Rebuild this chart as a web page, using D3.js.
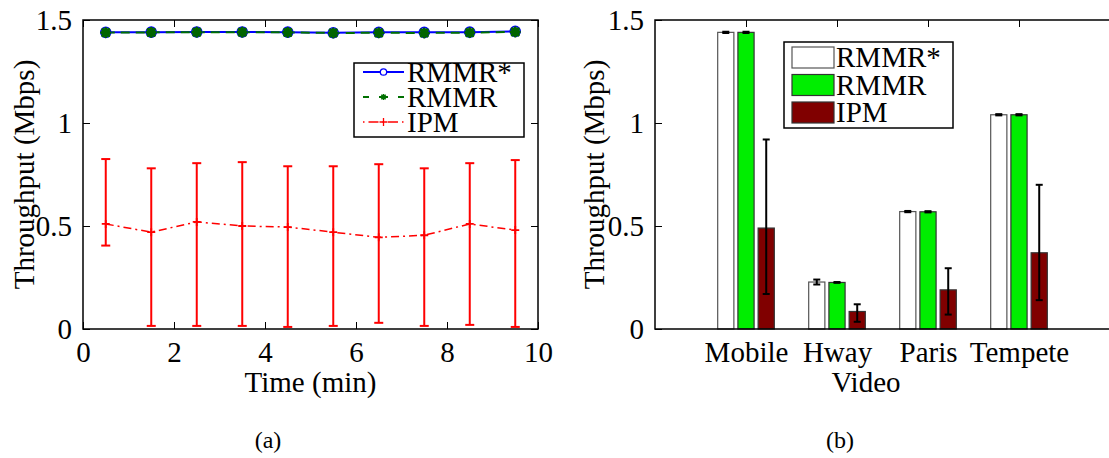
<!DOCTYPE html>
<html>
<head>
<meta charset="utf-8">
<script src="https://cdn.jsdelivr.net/npm/d3@7"></script>
<style>
  html, body { margin: 0; padding: 0; background: #fff; }
  svg { display: block; }
</style>
</head>
<body>
<svg id="fig" width="1109" height="458"></svg>
<script>
// ---- Panel (a): throughput over time ----
const timeMin = [0.5, 1.5, 2.5, 3.5, 4.5, 5.5, 6.5, 7.5, 8.5, 9.5];
const rmmrStarTime = [1.440, 1.441, 1.442, 1.442, 1.441, 1.438, 1.440, 1.440, 1.441, 1.445];
const rmmrTime     = [1.439, 1.440, 1.441, 1.441, 1.440, 1.437, 1.438, 1.437, 1.439, 1.442];
const ipmTime      = [0.51, 0.47, 0.52, 0.50, 0.495, 0.47, 0.445, 0.455, 0.51, 0.48];
const ipmTimeLow   = [0.405, 0.015, 0.015, 0.015, 0.01, 0.015, 0.03, 0.015, 0.02, 0.01];
const ipmTimeHigh  = [0.825, 0.78, 0.805, 0.81, 0.79, 0.79, 0.80, 0.78, 0.805, 0.82];
const timeTicks = [0, 2, 4, 6, 8, 10];
const throughputTicks = [0, 0.5, 1, 1.5];

// ---- Panel (b): throughput per video ----
const videos = ["Mobile", "Hway", "Paris", "Tempete"];
const schemes = ["RMMR*", "RMMR", "IPM"];
const rmmrStarVideo = [1.44, 0.228, 0.57, 1.04];
const rmmrVideo     = [1.44, 0.226, 0.569, 1.04];
const ipmVideo      = [0.49, 0.085, 0.19, 0.37];
const rmmrStarErr   = [0.003, 0.012, 0.003, 0.003];
const rmmrErr       = [0.003, 0.002, 0.003, 0.003];
const ipmVideoLow   = [0.17, 0.035, 0.07, 0.14];
const ipmVideoHigh  = [0.92, 0.12, 0.295, 0.70];

const svg = d3.select("#fig");
const FS = 29;
const SERIF = "'Liberation Serif', 'Times New Roman', Times, serif";

function frame(g, W, H) {
  g.append("rect").attr("x", 0).attr("y", 0).attr("width", W).attr("height", H)
    .attr("fill", "none").attr("stroke", "#000").attr("stroke-width", 1.5);
}

// ================= Panel (a) =================
{
  const L = 83, T = 20, W = 455, H = 309;
  const g = svg.append("g").attr("transform", `translate(${L},${T})`);
  const x = d3.scaleLinear().domain([0, 10]).range([0, W]);
  const y = d3.scaleLinear().domain([0, 1.5]).range([H, 0]);

  // ticks (inside, on all four sides)
  const tick = 7;
  g.append("g").attr("transform", `translate(0,${H})`)
    .call(d3.axisBottom(x).tickValues(timeTicks).tickSizeInner(-tick).tickSizeOuter(0).tickPadding(12).tickFormat(d3.format("d")))
    .call(a => a.select(".domain").remove());
  g.append("g")
    .call(d3.axisTop(x).tickValues(timeTicks).tickSizeInner(-tick).tickSizeOuter(0).tickFormat(""))
    .call(a => a.select(".domain").remove());
  g.append("g")
    .call(d3.axisLeft(y).tickValues(throughputTicks).tickSizeInner(-tick).tickSizeOuter(0).tickPadding(11).tickFormat(d => d3.format("")(d)))
    .call(a => a.select(".domain").remove());
  g.append("g").attr("transform", `translate(${W},0)`)
    .call(d3.axisRight(y).tickValues(throughputTicks).tickSizeInner(-tick).tickSizeOuter(0).tickFormat(""))
    .call(a => a.select(".domain").remove());
  g.selectAll(".tick line").attr("stroke", "#000").attr("stroke-width", 1);
  g.selectAll(".tick text").attr("font-size", FS).attr("fill", "#000");

  // IPM error bars
  const cap = 4.5;
  const eb = g.append("g").attr("stroke", "#ff0000").attr("stroke-width", 2).attr("fill", "none");
  timeMin.forEach((t, i) => {
    const cx = x(t);
    eb.append("line").attr("x1", cx).attr("x2", cx).attr("y1", y(ipmTimeLow[i])).attr("y2", y(ipmTimeHigh[i]));
    eb.append("line").attr("x1", cx - cap).attr("x2", cx + cap).attr("y1", y(ipmTimeLow[i])).attr("y2", y(ipmTimeLow[i]));
    eb.append("line").attr("x1", cx - cap).attr("x2", cx + cap).attr("y1", y(ipmTimeHigh[i])).attr("y2", y(ipmTimeHigh[i]));
  });

  const line = d3.line().x((d, i) => x(timeMin[i])).y(d => y(d));
  // IPM dash-dot line
  g.append("path").datum(ipmTime).attr("d", line).attr("fill", "none")
    .attr("stroke", "#ff0000").attr("stroke-width", 1.5).attr("stroke-dasharray", "8,4,2,4");
  g.selectAll(".ipmMark").data(ipmTime).join("path").attr("class", "ipmMark")
    .attr("transform", (d, i) => `translate(${x(timeMin[i])},${y(d)})`)
    .attr("d", "M-4,0H4M0,-4V4").attr("stroke", "#ff0000").attr("stroke-width", 1.8);

  // RMMR* solid blue with circles
  g.append("path").datum(rmmrStarTime).attr("d", line).attr("fill", "none")
    .attr("stroke", "#0000ff").attr("stroke-width", 2);
  // RMMR dashed green with asterisks
  g.append("path").datum(rmmrTime).attr("d", line).attr("fill", "none")
    .attr("stroke", "#007000").attr("stroke-width", 2).attr("stroke-dasharray", "9,6");
  g.selectAll(".starMark").data(rmmrStarTime).join("circle").attr("class", "starMark")
    .attr("cx", (d, i) => x(timeMin[i])).attr("cy", d => y(d)).attr("r", 5)
    .attr("fill", "none").attr("stroke", "#0000ff").attr("stroke-width", 1.6);
  const asterisk = "M-4,0H4M0,-4V4M-3,-3L3,3M-3,3L3,-3";
  g.selectAll(".rmmrMark").data(rmmrTime).join("path").attr("class", "rmmrMark")
    .attr("transform", (d, i) => `translate(${x(timeMin[i])},${y(d)})`)
    .attr("d", asterisk).attr("stroke", "#006400").attr("stroke-width", 3.2).attr("stroke-linecap", "round");

  frame(g, W, H);

  // legend
  const lg = svg.append("g").attr("transform", "translate(354,63)");
  lg.append("rect").attr("width", 170).attr("height", 74).attr("fill", "#fff").attr("stroke", "#000").attr("stroke-width", 1.5);
  const rows = [9, 34, 59];
  // RMMR*
  lg.append("line").attr("x1", 9).attr("x2", 50).attr("y1", rows[0]).attr("y2", rows[0]).attr("stroke", "#0000ff").attr("stroke-width", 2);
  lg.append("circle").attr("cx", 29.5).attr("cy", rows[0]).attr("r", 3.2).attr("fill", "#fff").attr("stroke", "#0000ff").attr("stroke-width", 1.3);
  // RMMR
  lg.append("line").attr("x1", 9).attr("x2", 50).attr("y1", rows[1]).attr("y2", rows[1]).attr("stroke", "#007000").attr("stroke-width", 2).attr("stroke-dasharray", "6,10,9,10,6");
  lg.append("path").attr("transform", `translate(29.5,${rows[1]})`).attr("d", "M-3,0H3M0,-3V3M-2.2,-2.2L2.2,2.2M-2.2,2.2L2.2,-2.2")
    .attr("stroke", "#007000").attr("stroke-width", 1.5);
  // IPM
  lg.append("line").attr("x1", 9).attr("x2", 50).attr("y1", rows[2]).attr("y2", rows[2]).attr("stroke", "#ff0000").attr("stroke-width", 1.5).attr("stroke-dasharray", "1.5,4,10,4");
  lg.append("path").attr("transform", `translate(29.5,${rows[2]})`).attr("d", "M-4,0H4M0,-4V4").attr("stroke", "#ff0000").attr("stroke-width", 1.3);
  ["RMMR*", "RMMR", "IPM"].forEach((s, i) => {
    lg.append("text").attr("x", 53).attr("y", rows[i] + 10).attr("font-size", FS).text(s);
  });

  svg.append("text").attr("x", L + W / 2).attr("y", 392).attr("text-anchor", "middle").attr("font-size", FS).text("Time (min)");
  svg.append("text").attr("transform", `translate(34,${T + H / 2}) rotate(-90)`).attr("text-anchor", "middle").attr("font-size", FS).text("Throughput (Mbps)");
  svg.append("text").attr("x", 268).attr("y", 448).attr("text-anchor", "middle").attr("font-size", 24).text("(a)");
}

// ================= Panel (b) =================
{
  const L = 655, T = 20, W = 455, H = 309;
  const g = svg.append("g").attr("transform", `translate(${L},${T})`);
  const x = d3.scaleLinear().domain([0, 5]).range([0, W]);
  const y = d3.scaleLinear().domain([0, 1.5]).range([H, 0]);
  const pos = videos.map((v, i) => i + 1);

  const tick = 7;
  g.append("g").attr("transform", `translate(0,${H})`)
    .call(d3.axisBottom(x).tickValues(pos).tickSizeInner(-tick).tickSizeOuter(0).tickPadding(12).tickFormat((d, i) => videos[i]))
    .call(a => a.select(".domain").remove());
  g.append("g")
    .call(d3.axisTop(x).tickValues(pos).tickSizeInner(-tick).tickSizeOuter(0).tickFormat(""))
    .call(a => a.select(".domain").remove());
  g.append("g")
    .call(d3.axisLeft(y).tickValues(throughputTicks).tickSizeInner(-tick).tickSizeOuter(0).tickPadding(11).tickFormat(d => d3.format("")(d)))
    .call(a => a.select(".domain").remove());
  g.selectAll(".tick line").attr("stroke", "#000").attr("stroke-width", 1);
  g.selectAll(".tick text").attr("font-size", FS).attr("fill", "#000");

  // grouped bars
  const groupW = Math.min(0.8, 3 / 4.5);
  const barW = groupW / 3 * 0.8;
  const off = groupW / 3;
  const series = [
    { vals: rmmrStarVideo, lo: rmmrStarVideo.map((v, i) => v - rmmrStarErr[i]), hi: rmmrStarVideo.map((v, i) => v + rmmrStarErr[i]), fill: "#ffffff", edge: "#555" },
    { vals: rmmrVideo, lo: rmmrVideo.map((v, i) => v - rmmrErr[i]), hi: rmmrVideo.map((v, i) => v + rmmrErr[i]), fill: "#00ee00", edge: "#333" },
    { vals: ipmVideo, lo: ipmVideoLow, hi: ipmVideoHigh, fill: "#800000", edge: "#333" }
  ];
  series.forEach((s, k) => {
    const dx = (k - 1) * off;
    g.selectAll(".bar" + k).data(s.vals).join("rect").attr("class", "bar" + k)
      .attr("x", (d, i) => x(pos[i] + dx - barW / 2))
      .attr("width", x(barW) - x(0))
      .attr("y", d => y(d)).attr("height", d => y(0) - y(d))
      .attr("fill", s.fill).attr("stroke", s.edge).attr("stroke-width", 1.2);
    const cap = 3.5;
    s.vals.forEach((v, i) => {
      const cx = x(pos[i] + dx);
      const e = g.append("g").attr("stroke", "#000").attr("stroke-width", 2);
      e.append("line").attr("x1", cx).attr("x2", cx).attr("y1", y(s.lo[i])).attr("y2", y(s.hi[i]));
      e.append("line").attr("x1", cx - cap).attr("x2", cx + cap).attr("y1", y(s.lo[i])).attr("y2", y(s.lo[i]));
      e.append("line").attr("x1", cx - cap).attr("x2", cx + cap).attr("y1", y(s.hi[i])).attr("y2", y(s.hi[i]));
    });
  });

  frame(g, W, H);

  // legend
  const lg = svg.append("g").attr("transform", "translate(784,42)");
  lg.append("rect").attr("width", 169).attr("height", 86).attr("fill", "#fff").attr("stroke", "#000").attr("stroke-width", 1.5);
  series.forEach((s, i) => {
    lg.append("rect").attr("x", 8).attr("y", 5 + i * 27.5).attr("width", 42).attr("height", 21)
      .attr("fill", s.fill).attr("stroke", s.edge).attr("stroke-width", 1.2);
    lg.append("text").attr("x", 52).attr("y", 25 + i * 27.5).attr("font-size", FS).text(schemes[i]);
  });

  svg.append("text").attr("x", 866).attr("y", 392).attr("text-anchor", "middle").attr("font-size", FS).text("Video");
  svg.append("text").attr("transform", `translate(604,${T + H / 2}) rotate(-90)`).attr("text-anchor", "middle").attr("font-size", FS).text("Throughput (Mbps)");
  svg.append("text").attr("x", 840).attr("y", 448).attr("text-anchor", "middle").attr("font-size", 24).text("(b)");
}

// every label uses the serif face
svg.selectAll("text").style("font-family", SERIF);
</script>
</body>
</html>
